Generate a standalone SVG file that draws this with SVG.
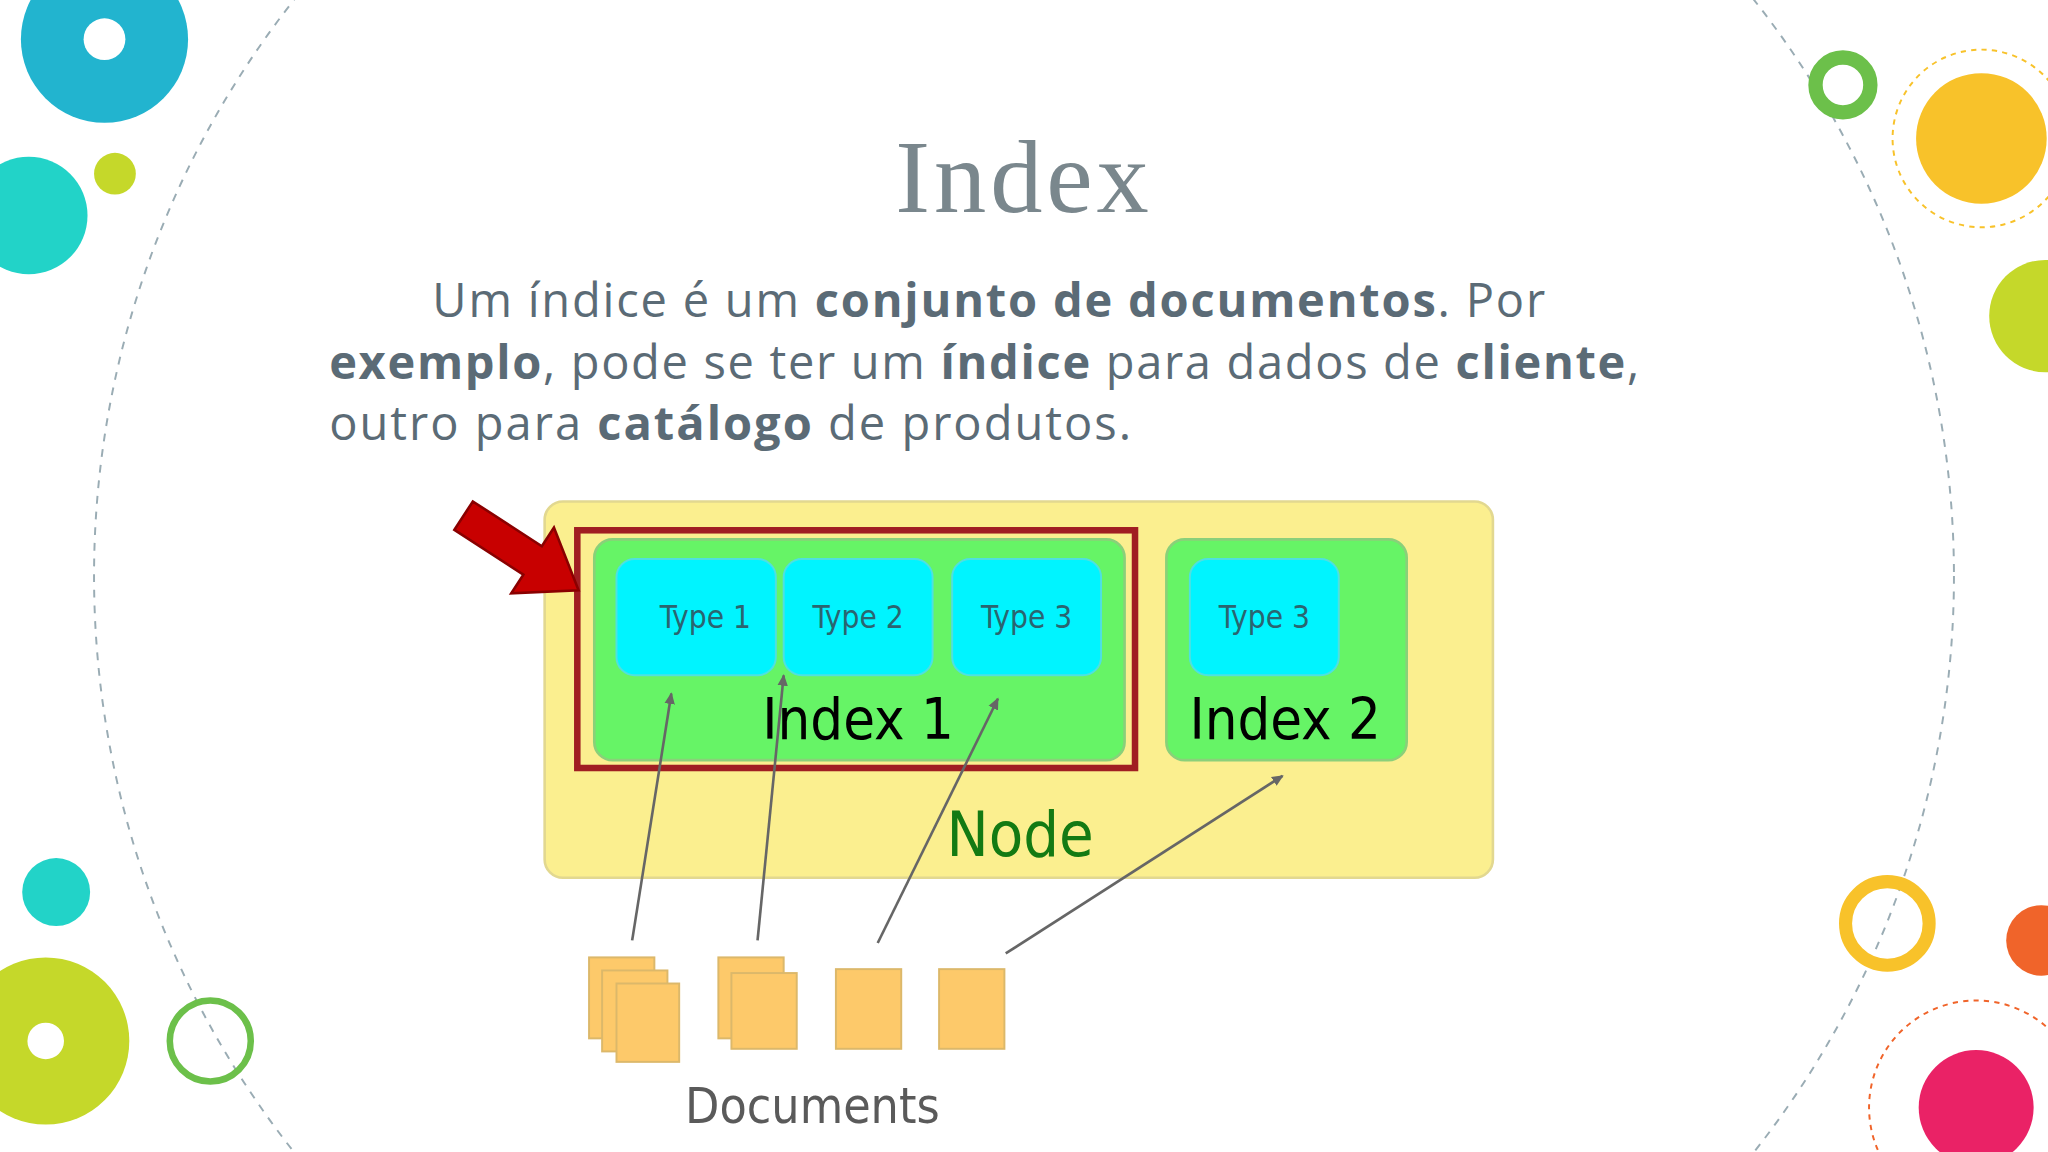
<svg xmlns="http://www.w3.org/2000/svg" width="2048" height="1152" viewBox="0 0 2048 1152">
<style>
.p{font-family:"Open Sans","Noto Sans",sans-serif;font-size:36px;fill:#5b6b76}
.ty{font-family:"DejaVu Sans Condensed","DejaVu Sans",sans-serif;font-size:24px;fill:#2a6570;text-anchor:middle}
.ix{font-family:"DejaVu Sans Condensed","DejaVu Sans",sans-serif;font-size:44px;fill:#000;text-anchor:middle}
.cy{fill:#00f4ff;stroke:#4fe0e0;stroke-width:1.5}
.gr{fill:#66f466;stroke:#8ad07a;stroke-width:2}
.doc{fill:#fdc96a;stroke:#dcb86a;stroke-width:1.5}
.con{stroke:#666;stroke-width:2;fill:none;marker-end:url(#ah)}
</style>
<defs><marker id="ah" markerWidth="10" markerHeight="10" refX="8" refY="5" orient="auto" markerUnits="userSpaceOnUse"><path d="M0,1 L9,5 L0,9 z" fill="#666"/></marker></defs>
<rect width="2048" height="1152" fill="#fff"/>
<g transform="scale(1.30612)">
<g id="decor">
<circle cx="784" cy="441" r="712" fill="none" stroke="#9aacb4" stroke-width="1.5" stroke-dasharray="6 6"/>
<circle cx="80" cy="30" r="64" fill="#22b4cf"/><circle cx="80" cy="30" r="16" fill="#fff"/>
<circle cx="22" cy="165" r="45" fill="#22d3c8"/>
<circle cx="88" cy="133" r="16" fill="#c5d82a"/>
<circle cx="1411" cy="65" r="21" fill="none" stroke="#6cc04a" stroke-width="11"/>
<circle cx="1517" cy="106" r="50" fill="#f8c22a"/>
<circle cx="1517" cy="106" r="68" fill="none" stroke="#f8c22a" stroke-width="1.5" stroke-dasharray="4 4"/>
<circle cx="1566" cy="242" r="43" fill="#c5d82a"/>
<circle cx="43" cy="683" r="26" fill="#22d3c8"/>
<circle cx="35" cy="797" r="64" fill="#c5d82a"/><circle cx="35" cy="797" r="14" fill="#fff"/>
<circle cx="161" cy="797" r="31" fill="none" stroke="#6cc04a" stroke-width="5"/>
<circle cx="1445" cy="707" r="32" fill="none" stroke="#f8c22a" stroke-width="10"/>
<circle cx="1563" cy="720" r="27" fill="#f0642a"/>
<circle cx="1513" cy="848" r="44" fill="#ea2266"/>
<circle cx="1513" cy="848" r="82" fill="none" stroke="#f0642a" stroke-width="1.5" stroke-dasharray="4 4"/>
</g>
<g id="title"><text x="784" y="162" text-anchor="middle" font-family="'Liberation Serif',serif" font-size="80" fill="#7a878d" letter-spacing="3">Index</text></g>
<g id="para">
<text class="p" x="331" y="243" textLength="852" lengthAdjust="spacing">Um índice é um <tspan font-weight="700">conjunto de documentos</tspan>. Por</text>
<text class="p" x="252" y="290" textLength="1003" lengthAdjust="spacing"><tspan font-weight="700">exemplo</tspan>, pode se ter um <tspan font-weight="700">índice</tspan> para dados de <tspan font-weight="700">cliente</tspan>,</text>
<text class="p" x="252" y="337" textLength="614" lengthAdjust="spacing">outro para <tspan font-weight="700">catálogo</tspan> de produtos.</text>
</g>
<g id="node"><rect x="417" y="384" width="726" height="288" rx="14" fill="#fbef8f" stroke="#e2d890" stroke-width="2"/>
<text x="781" y="655" text-anchor="middle" font-family="'DejaVu Sans Condensed','DejaVu Sans',sans-serif" font-size="48" fill="#137a13">Node</text></g>
<g id="index1"><rect class="gr" x="455" y="413" width="406" height="169" rx="14"/>
<rect class="cy" x="472" y="428" width="122" height="89" rx="14"/><text class="ty" x="540" y="481">Type 1</text>
<rect class="cy" x="600" y="428" width="114" height="89" rx="14"/><text class="ty" x="657" y="481">Type 2</text>
<rect class="cy" x="729" y="428" width="114" height="89" rx="14"/><text class="ty" x="786" y="481">Type 3</text>
<text class="ix" x="657" y="566">Index 1</text></g>
<g id="index2"><rect class="gr" x="893" y="413" width="184" height="169" rx="14"/>
<rect class="cy" x="911" y="428" width="114" height="89" rx="14"/><text class="ty" x="968" y="481">Type 3</text>
<text class="ix" x="984" y="566">Index 2</text></g>
<g id="highlight"><rect x="442" y="406" width="427" height="182" fill="none" stroke="#a01e22" stroke-width="5"/>
<polygon transform="translate(443,452) rotate(33)" points="0,0 -42,-30 -42,-13 -105,-13 -105,13 -42,13 -42,30" fill="#c80000" stroke="#8a0000" stroke-width="2"/></g>
<g id="documents">
<rect class="doc" x="451" y="733" width="50" height="62"/><rect class="doc" x="461" y="743" width="50" height="62"/><rect class="doc" x="472" y="753" width="48" height="60"/>
<rect class="doc" x="550" y="733" width="50" height="62"/><rect class="doc" x="560" y="745" width="50" height="58"/>
<rect class="doc" x="640" y="742" width="50" height="61"/><rect class="doc" x="719" y="742" width="50" height="61"/>
<text x="622" y="860" text-anchor="middle" font-family="'DejaVu Sans Condensed','DejaVu Sans',sans-serif" font-size="38" fill="#5a5a5a">Documents</text></g>
<g id="connectors">
<line class="con" x1="484" y1="720" x2="514" y2="531"/>
<line class="con" x1="580" y1="720" x2="600" y2="517"/>
<line class="con" x1="672" y1="722" x2="764" y2="535"/>
<line class="con" x1="770" y1="730" x2="982" y2="594"/>
</g>
</g>
</svg>
